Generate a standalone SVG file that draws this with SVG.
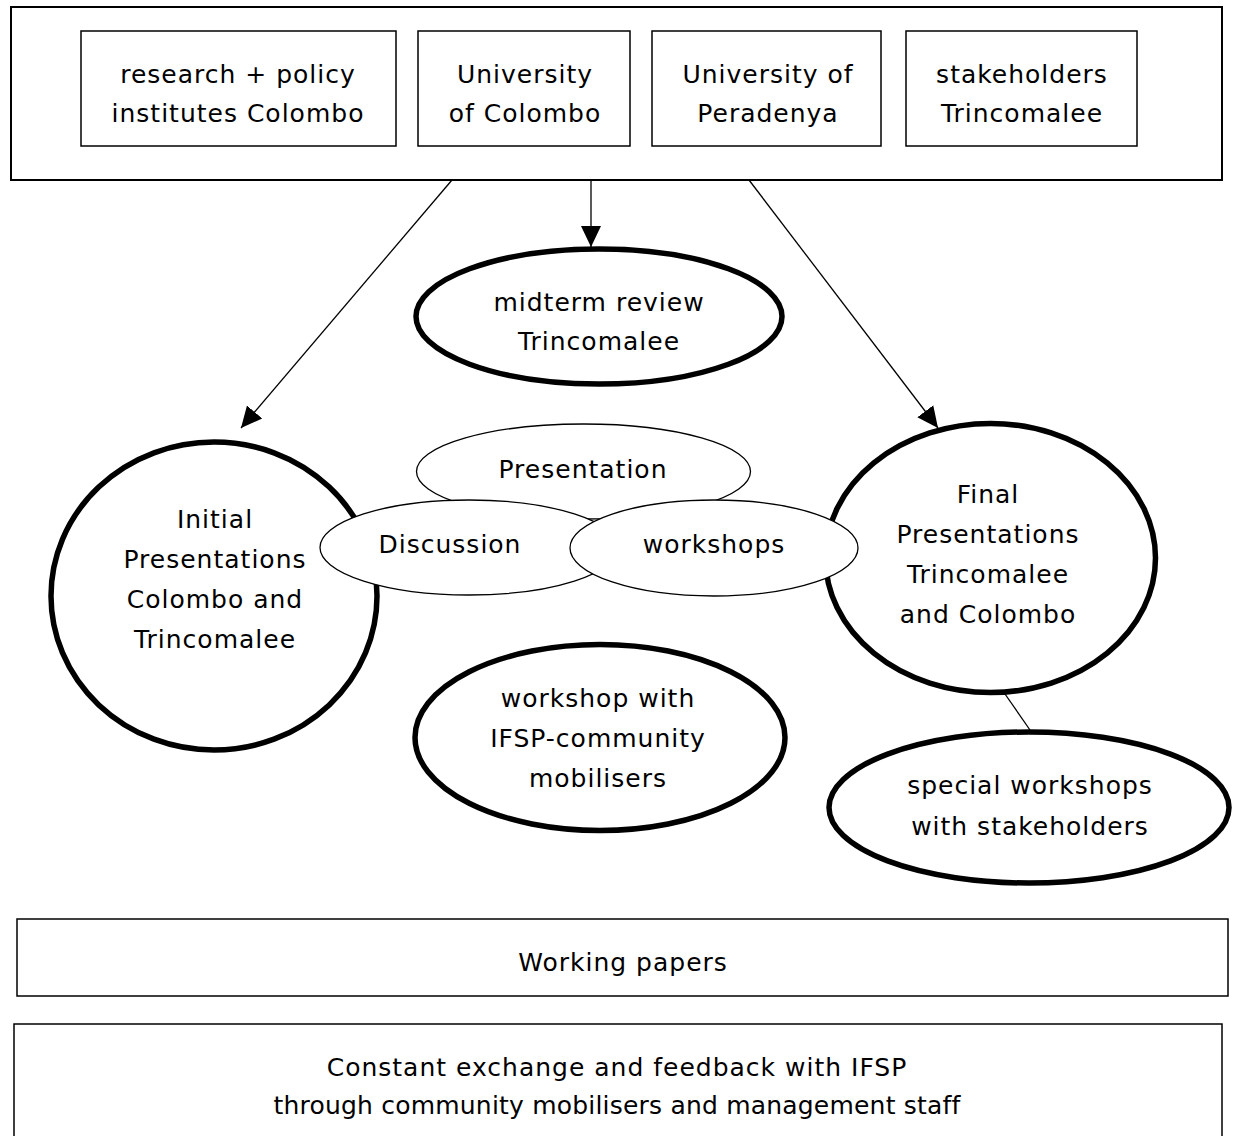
<svg xmlns="http://www.w3.org/2000/svg" width="1233" height="1136" viewBox="0 0 1233 1136">
<style>
  text { font-family: "DejaVu Sans", "Liberation Sans", sans-serif; font-size: 25px; letter-spacing: 1px; fill: #000; text-anchor: middle; }
  .tight { letter-spacing: 0.2px; }
  .box { fill: #fff; stroke: #000; stroke-width: 1.5; }
  .frame { fill: #fff; stroke: #000; stroke-width: 2; }
  .thick { fill: #fff; stroke: #000; stroke-width: 5.5; }
  .thin { fill: #fff; stroke: #000; stroke-width: 1.3; }
  .conn { fill: none; stroke: #000; stroke-width: 1.3; }
</style>
<defs>
  <marker id="arrow" markerUnits="userSpaceOnUse" markerWidth="22" markerHeight="22" viewBox="0 0 22 22" refX="21" refY="11" orient="auto">
    <path d="M0,1 L21,11 L0,21 Z" fill="#000"/>
  </marker>
</defs>
<rect width="1233" height="1136" fill="#fff"/>

<g id="top-frame">
  <rect class="frame" x="11" y="7" width="1211" height="173"/>
</g>
<g id="box-research">
  <rect class="box" x="81" y="31" width="315" height="115"/>
  <text x="238" y="83">research + policy</text>
  <text x="238" y="122">institutes Colombo</text>
</g>
<g id="box-uni-colombo">
  <rect class="box" x="418" y="31" width="212" height="115"/>
  <text x="525" y="83">University</text>
  <text x="525" y="122">of Colombo</text>
</g>
<g id="box-uni-peradenya">
  <rect class="box" x="652" y="31" width="229" height="115"/>
  <text x="768" y="83">University of</text>
  <text x="768" y="122">Peradenya</text>
</g>
<g id="box-stakeholders">
  <rect class="box" x="906" y="31" width="231" height="115"/>
  <text x="1022" y="83">stakeholders</text>
  <text x="1022" y="122">Trincomalee</text>
</g>

<g id="connectors">
  <line class="conn" x1="452" y1="180" x2="241" y2="428" marker-end="url(#arrow)"/>
  <line class="conn" x1="591" y1="180" x2="591" y2="247" marker-end="url(#arrow)"/>
  <line class="conn" x1="749" y1="180" x2="938" y2="428" marker-end="url(#arrow)"/>
  <line class="conn" x1="1005" y1="694" x2="1030" y2="730"/>
</g>

<g id="midterm">
  <ellipse class="thick" cx="599" cy="316.5" rx="183" ry="67.5"/>
  <text x="599" y="311">midterm review</text>
  <text x="599" y="350">Trincomalee</text>
</g>
<g id="initial">
  <ellipse class="thick" cx="214" cy="596" rx="163" ry="154"/>
  <text x="215" y="528">Initial</text>
  <text x="215" y="568">Presentations</text>
  <text x="215" y="608">Colombo and</text>
  <text x="215" y="648">Trincomalee</text>
</g>
<g id="final">
  <ellipse class="thick" cx="990.5" cy="558" rx="165" ry="134.5"/>
  <text x="988" y="503">Final</text>
  <text x="988" y="543">Presentations</text>
  <text x="988" y="583">Trincomalee</text>
  <text x="988" y="623">and Colombo</text>
</g>
<g id="presentation">
  <ellipse class="thin" cx="583.5" cy="471.5" rx="167" ry="47.5"/>
  <text x="583" y="478">Presentation</text>
</g>
<g id="discussion">
  <ellipse class="thin" cx="469" cy="547.5" rx="149" ry="47.5"/>
  <text x="450" y="553">Discussion</text>
</g>
<g id="workshops">
  <ellipse class="thin" cx="714" cy="548" rx="144" ry="48"/>
  <text x="714" y="553">workshops</text>
</g>
<g id="workshop-ifsp">
  <ellipse class="thick" cx="600" cy="737.5" rx="185" ry="93"/>
  <text x="598" y="707">workshop with</text>
  <text x="598" y="747">IFSP-community</text>
  <text x="598" y="787">mobilisers</text>
</g>
<g id="special">
  <ellipse class="thick" cx="1029" cy="807.5" rx="200" ry="75.5"/>
  <text x="1030" y="794">special workshops</text>
  <text x="1030" y="835">with stakeholders</text>
</g>
<g id="working-papers">
  <rect class="box" x="17" y="919" width="1211" height="77"/>
  <text x="623" y="971">Working papers</text>
</g>
<g id="exchange">
  <rect class="box" x="14" y="1024" width="1208" height="130"/>
  <text x="617" y="1076">Constant exchange and feedback with IFSP</text>
  <text class="tight" x="617" y="1114">through community mobilisers and management staff</text>
</g>
</svg>
